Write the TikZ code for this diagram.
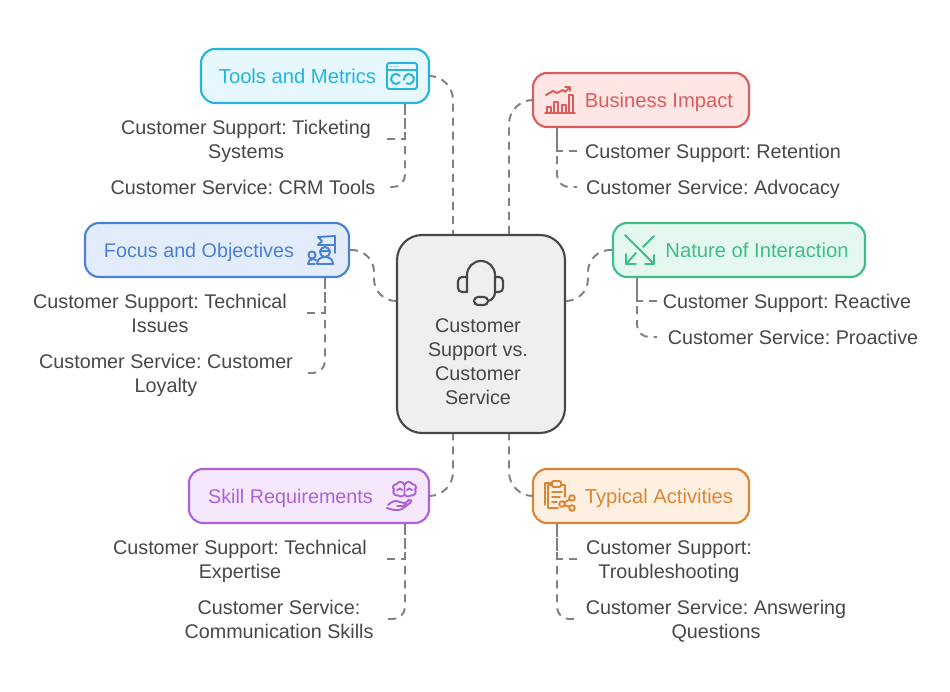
\documentclass[tikz,border=0pt]{standalone}
\usepackage{fontspec}
\setmainfont{Liberation Sans}
\frenchspacing
\definecolor{inkgray}{HTML}{474747}
\definecolor{linkgray}{HTML}{808080}
\definecolor{hubfill}{HTML}{EFEFEF}
\definecolor{toolsc}{HTML}{24B4DC}
\definecolor{toolsf}{HTML}{E6F8FD}
\definecolor{bizc}{HTML}{DB5C5C}
\definecolor{bizf}{HTML}{FFE6E5}
\definecolor{focusc}{HTML}{4A80D6}
\definecolor{focusf}{HTML}{E3ECFB}
\definecolor{naturec}{HTML}{3EBD86}
\definecolor{naturef}{HTML}{E4F8EF}
\definecolor{skillc}{HTML}{AE62DA}
\definecolor{skillf}{HTML}{F5E7FC}
\definecolor{typicalc}{HTML}{DC8635}
\definecolor{typicalf}{HTML}{FDF0E1}
\begin{document}
\begin{tikzpicture}[x=0.02cm, y=-0.02cm,
item/.style = {rectangle, draw, line width = 1.2pt, rounded corners = 0.28cm, minimum height = 1.08cm, inner sep = 0pt},
head/.style = {font = \fontsize{11.5}{13.6}\selectfont, inner sep = 0pt},
headsmall/.style = {head, font = \fontsize{11.25}{13.6}\selectfont},
sub/.style = {head, font = \fontsize{11.25}{13.6}\selectfont, text = inkgray, align = center},
link/.style = {draw = linkgray, line width = 1.1pt, dash pattern = on 4.6pt off 3.4pt},
glyph/.style = {line width = 1.1pt, line cap = round, line join = round, fill = none}]

\useasboundingbox (0,0) rectangle (950,692);

% Center
\node[item, draw = inkgray, fill = hubfill, rounded corners = 0.5cm, minimum width = 3.36cm, minimum height = 3.96cm] (hub) at (481,334) {};
\node[sub] (hub-text) at (478,362) {Customer\\Support vs.\\Customer\\Service};

% Branch boxes
\node[item, draw = toolsc, fill = toolsf, minimum width = 4.56cm] (tools) at (315,76) {};
\node[item, draw = bizc, fill = bizf, minimum width = 4.32cm] (biz) at (641,100) {};
\node[item, draw = focusc, fill = focusf, minimum width = 5.28cm] (focus) at (217,250) {};
\node[item, draw = naturec, fill = naturef, minimum width = 5.04cm] (nature) at (739,250) {};
\node[item, draw = skillc, fill = skillf, minimum width = 4.8cm] (skill) at (309,496) {};
\node[item, draw = typicalc, fill = typicalf, minimum width = 4.32cm] (typical) at (641,496) {};

\node[head, text = toolsc] (tools-text) at (297.5,76) {Tools and Metrics};
\node[head, text = bizc] (biz-text) at (659,102) {Business Impact};
\node[headsmall, text = focusc] (focus-text) at (199,252) {Focus and Objectives};
\node[head, text = naturec] (nature-text) at (757,250) {Nature of Interaction};
\node[headsmall, text = skillc] (skill-text) at (290.5,498) {Skill Requirements};
\node[head, text = typicalc] (typical-text) at (659,498) {Typical Activities};

% Sub items
\node[sub] (tools-a) at (246,141) {Customer Support: Ticketing\\Systems};
\node[sub] (tools-b) at (243,187) {Customer Service: CRM Tools};
\node[sub] (biz-a) at (713,153) {Customer Support: Retention};
\node[sub] (biz-b) at (713,189) {Customer Service: Advocacy};
\node[sub] (focus-a) at (160,313.5) {Customer Support: Technical\\Issues};
\node[sub] (focus-b) at (166,375) {Customer Service: Customer\\Loyalty};
\node[sub] (nature-a) at (787,303) {Customer Support: Reactive};
\node[sub] (nature-b) at (793,337) {Customer Service: Proactive};
\node[sub] (skill-a) at (240,561) {Customer Support: Technical\\Expertise};
\node[sub] (skill-b) at (279,619.5) {Customer Service:\\Communication Skills};
\node[sub] (typical-a) at (669,561.5) {Customer Support:\\Troubleshooting};
\node[sub] (typical-b) at (716,621) {Customer Service: Answering\\Questions};

% Free ends of the item lines
\coordinate (tools-a-end) at (387,139);
\coordinate (tools-b-end) at (387,187);
\coordinate (biz-a-end) at (577,151);
\coordinate (biz-b-end) at (577,187);
\coordinate (focus-a-end) at (307,313);
\coordinate (focus-b-end) at (307,373);
\coordinate (nature-a-end) at (657,301);
\coordinate (nature-b-end) at (657,337);
\coordinate (skill-a-end) at (387,559);
\coordinate (skill-b-end) at (387,619);
\coordinate (typical-a-end) at (577,559);
\coordinate (typical-b-end) at (577,619);

% Connect boxes to the center
\draw[link, rounded corners = 0.48cm] (tools.east) -| ([xshift = -0.56cm]hub.north);
\draw[link, rounded corners = 0.48cm] (biz.west) -| ([xshift = 0.56cm]hub.north);
\draw[link, rounded corners = 0.44cm] (focus.east) -- ++(24,0) -- ++(0,51) -- ([yshift = 0.66cm]hub.west);
\draw[link, rounded corners = 0.44cm] (nature.west) -- ++(-24,0) -- ++(0,51) -- ([yshift = 0.66cm]hub.east);
\draw[link, rounded corners = 0.48cm] (skill.east) -| ([xshift = -0.56cm]hub.south);
\draw[link, rounded corners = 0.48cm] (typical.west) -| ([xshift = 0.56cm]hub.south);

% Connect boxes to their items
\draw[link] (tools-a-end) -| ([xshift = 1.8cm]tools.south);
\draw[link, rounded corners = 0.24cm] ([xshift = 1.8cm]tools.south) |- (tools-b-end);
\draw[link] (biz-a-end) -| ([xshift = -1.68cm]biz.south);
\draw[link, rounded corners = 0.24cm] ([xshift = -1.68cm]biz.south) |- (biz-b-end);
\draw[link] (focus-a-end) -| ([xshift = 2.16cm]focus.south);
\draw[link, rounded corners = 0.24cm] ([xshift = 2.16cm]focus.south) |- (focus-b-end);
\draw[link] (nature-a-end) -| ([xshift = -2.04cm]nature.south);
\draw[link, rounded corners = 0.24cm] ([xshift = -2.04cm]nature.south) |- (nature-b-end);
\draw[link] (skill-a-end) -| ([xshift = 1.92cm]skill.south);
\draw[link, rounded corners = 0.24cm] ([xshift = 1.92cm]skill.south) |- (skill-b-end);
\draw[link] (typical-a-end) -| ([xshift = -1.68cm]typical.south);
\draw[link, rounded corners = 0.24cm] ([xshift = -1.68cm]typical.south) |- (typical-b-end);

% Headset
\begin{scope}[glyph, draw = inkgray, line width = 1.2pt]
\draw (467,292) -- (467,275) arc[start angle = 180, end angle = 0, x radius = 14, y radius = -14] -- (495,292);
\draw[rounded corners = 0.08cm] (467,277) -- (458,277) -- (458,292) -- (467,292);
\draw[rounded corners = 0.08cm] (495,277) -- (503,277) -- (503,292) -- (495,292);
\draw[rounded corners = 0.08cm] (474,297) rectangle (488,305);
\draw (488,301) .. controls (492,300) and (495,297) .. (495,292);
\end{scope}

% Tools icon
\begin{scope}[glyph, draw = toolsc]
\draw[rounded corners = 0.05cm] (387,63) rectangle (417,89);
\draw (387,70) -- (417,70);
\foreach \dotx in {391,394,397} \fill[toolsc] (\dotx,66.5) circle (0.7);
\draw (396,79) ++(40:5) arc[start angle = 40, end angle = 320, radius = 5];
\draw (409,79) ++(170:5) arc[start angle = 170, end angle = 480, radius = 5];
\end{scope}

% Business icon
\begin{scope}[glyph, draw = bizc]
\draw (545,113) -- (575,113);
\draw (547,113) -- (547,107) -- (551,107) -- (551,113);
\draw (554,113) -- (554,102) -- (558,102) -- (558,113);
\draw (562,113) -- (562,105) -- (566,105) -- (566,113);
\draw (569,113) -- (569,95) -- (573,95) -- (573,113);
\draw (546,95) -- (553,91) -- (557,93) -- (563,90) -- (565,92) -- (570,87);
\draw (565,87) -- (570,87) -- (570,91);
\end{scope}

% Focus icon
\begin{scope}[glyph, draw = focusc]
\draw (335,236) -- (335,253);
\draw (335,236) -- (318,237) -- (322,241) -- (318,245) -- (335,245);
\draw (325,252) circle (5);
\draw (320,251) -- (330,251);
\draw (317,264) .. controls (317,259) and (321,257) .. (325,257) .. controls (329,257) and (333,259) .. (333,264) -- (317,264);
\draw (312,255) circle (3.6);
\draw (308,264) .. controls (308,261) and (310,259) .. (313,259) -- (316,260);
\draw (308,264) -- (315,264);
\end{scope}

% Nature icon
\begin{scope}[glyph, draw = naturec]
\draw (625,235) -- (654,264);
\draw (654,255) -- (654,264) -- (645,264);
\draw (654,236) -- (643,247);
\draw (636,253) -- (626,264);
\draw (626,254) -- (626,264) -- (636,264);
\end{scope}

% Skill icon
\begin{scope}[glyph, draw = skillc]
\draw (404.5,485) .. controls (403,481) and (398,481) .. (397,484) .. controls (393,484) and (392,488) .. (394,489.5) .. controls (392,492) and (394,496) .. (398,495.5) .. controls (400,497) and (403,497) .. (404.5,495) -- cycle;
\draw (404.5,485) .. controls (406,481) and (411,481) .. (412,484) .. controls (416,484) and (417,488) .. (415,489.5) .. controls (417,492) and (415,496) .. (411,495.5) .. controls (409,497) and (406,497) .. (404.5,495);
\draw (397,490) .. controls (399,488) and (401,488) .. (402,490) (412,490) .. controls (410,488) and (408,488) .. (407,490);
\draw (388,505) .. controls (392,501) and (396,500) .. (400,502) -- (404,503) .. controls (407,503) and (407,506) .. (403,506) -- (397,506);
\draw (404,504) -- (409,500) .. controls (411,499) and (412,501) .. (410,503) -- (402,509) .. controls (398,511) and (392,510) .. (387,508);
\end{scope}

% Typical icon
\begin{scope}[glyph, draw = typicalc]
\draw (558,508) -- (548,508) -- (548,485) -- (552,485);
\draw (545,505) -- (545,483) -- (552,483);
\draw (561,485) -- (565,485) -- (565,497);
\draw[rounded corners = 0.03cm] (552,481) rectangle (561,487);
\draw (552,492) -- (562,492) (552,497) -- (560,497) (552,502) -- (557,502);
\draw (562,504) circle (2.8) (572,498) circle (2.8) (572,508) circle (2.8);
\draw (564.5,502.5) -- (569.5,499.5) (564.5,505.5) -- (569.5,506.5);
\end{scope}

\end{tikzpicture}
\end{document}
